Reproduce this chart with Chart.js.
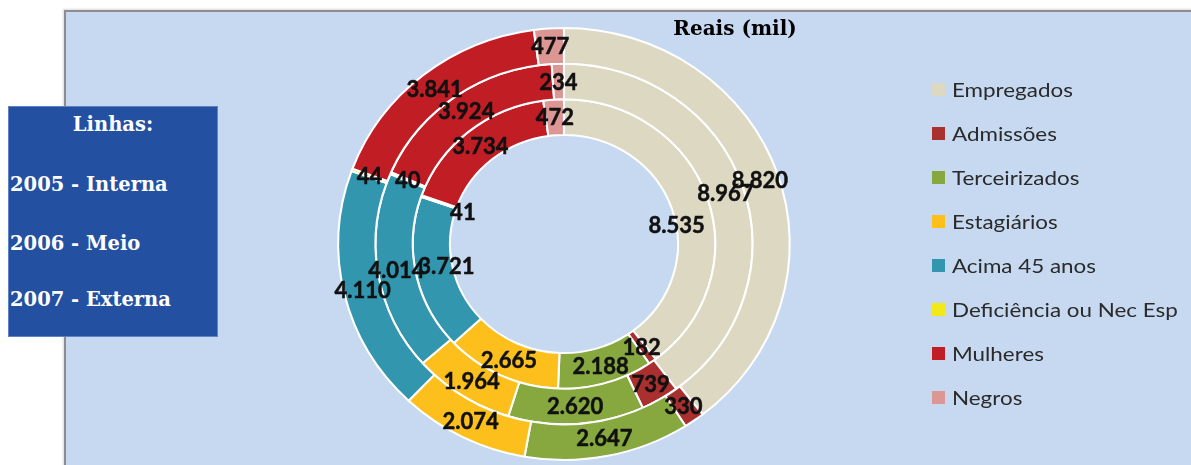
<!DOCTYPE html>
<html lang="pt-BR">
<head>
<meta charset="utf-8">
<title>Reais (mil)</title>
<script src="https://cdn.jsdelivr.net/npm/chart.js@4/dist/chart.umd.min.js"></script>
<style>
  html, body { margin: 0; padding: 0; background: #ffffff; }
  body { width: 1191px; height: 465px; position: relative; overflow: hidden; }
  #panel {
    position: absolute; left: 64px; top: 10px; width: 1140px; height: 470px;
    background: #c6d9f0;
    border-top: 2px solid #8d8d8d; border-left: 2px solid #8d8d8d;
    box-shadow: -1px -1px 2px rgba(0,0,0,0.15);
  }
  #lines {
    position: absolute; left: 8px; top: 106px; width: 208px; height: 229px;
    background: #2350a1; border: 1px solid #5f82c4;
    color: #ffffff; font-family: "DejaVu Serif", serif; font-weight: bold; font-size: 19.5px;
  }
  #lines div { position: absolute; left: 1px; white-space: nowrap; line-height: 20px; }
  #lines .head { left: 0; width: 208px; text-align: center; }
  #chart { position: absolute; left: 0; top: 0; }
</style>
</head>
<body>
<div id="panel"></div>
<div id="lines">
  <div class="head" style="top:8px">Linhas:</div>
  <div style="top:68px">2005 - Interna</div>
  <div style="top:127px">2006 - Meio</div>
  <div style="top:183px">2007 - Externa</div>
</div>
<canvas id="chart" width="1191" height="465"></canvas>
<script>
// Categories and yearly values (R$ mil); rings go 2005 (inner) → 2007 (outer)
const categories = ['Empregados', 'Admissões', 'Terceirizados', 'Estagiários',
  'Acima 45 anos', 'Deficiência ou Nec Esp', 'Mulheres', 'Negros'];
const years = ['2007', '2006', '2005'];
const values2007 = [8820, 330, 2647, 2074, 4110, 44, 3841, 477];
const values2006 = [8967, 739, 2620, 1964, 4014, 40, 3924, 234];
const values2005 = [8535, 182, 2188, 2665, 3721, 41, 3734, 472];
const chartTitle = 'Reais (mil)';

const sliceColors = ['#ddd8c2', '#a9302e', '#86a83f', '#fcbf1c', '#3196ae', '#f3e81a', '#c11d25', '#dc9795'];

// Slight horizontal stretch of the rings
const SX = 1.045;
// Small hand adjustments for a few crowded inner labels: [dataset, index, dx, dy]
const labelNudges = [[2, 0, -13, 22], [2, 4, 12, -5], [2, 5, 24, 10]];

function fmt(v) {
  return String(v).replace(/\B(?=(\d{3})+(?!\d))/g, '.');
}

const decor = {
  id: 'decor',
  beforeDatasetsDraw(chart) {
    const ctx = chart.ctx;
    const a = chart.getDatasetMeta(0).data[0];
    ctx.save();
    ctx.translate(a.x, a.y);
    ctx.scale(SX, 1);
    ctx.translate(-a.x, -a.y);
  },
  afterDatasetsDraw(chart) {
    const ctx = chart.ctx;
    ctx.restore();

    // value labels at each slice centre
    ctx.save();
    ctx.font = 'bold 22px Lato, sans-serif';
    ctx.fillStyle = '#111111';
    ctx.strokeStyle = '#111111';
    ctx.lineWidth = 0.5;
    ctx.textAlign = 'center';
    ctx.textBaseline = 'middle';
    chart.data.datasets.forEach((ds, i) => {
      const meta = chart.getDatasetMeta(i);
      meta.data.forEach((arc, j) => {
        const p = arc.getCenterPoint();
        let x = arc.x + (p.x - arc.x) * SX;
        let y = p.y;
        labelNudges.forEach(n => { if (n[0] === i && n[1] === j) { x += n[2]; y += n[3]; } });
        ctx.fillText(fmt(ds.data[j]), x, y + 1);
        ctx.strokeText(fmt(ds.data[j]), x, y + 1);
      });
    });
    ctx.restore();

    // title
    ctx.save();
    ctx.font = 'bold 20px "DejaVu Serif", serif';
    ctx.fillStyle = '#000000';
    ctx.textAlign = 'center';
    ctx.textBaseline = 'middle';
    ctx.fillText(chartTitle, 735, 30);
    ctx.restore();

    // legend
    ctx.save();
    ctx.font = '20px Lato, sans-serif';
    ctx.textBaseline = 'middle';
    categories.forEach((c, k) => {
      const y = 89.5 + k * 44;
      ctx.fillStyle = sliceColors[k];
      ctx.fillRect(932, y - 6.5, 13, 13);
      ctx.save();
      ctx.translate(952, y + 1);
      ctx.scale(1.12, 1);
      ctx.fillStyle = '#2a2a2a';
      ctx.fillText(c, 0, 0);
      ctx.restore();
    });
    ctx.restore();
  }
};

new Chart(document.getElementById('chart'), {
  type: 'doughnut',
  data: {
    labels: categories,
    datasets: [
      { label: years[0], data: values2007, backgroundColor: sliceColors },
      { label: years[1], data: values2006, backgroundColor: sliceColors },
      { label: years[2], data: values2005, backgroundColor: sliceColors }
    ]
  },
  options: {
    responsive: false,
    animation: false,
    radius: 216,
    cutout: '50.5%',
    borderColor: '#ffffff',
    borderWidth: 2,
    layout: { padding: { left: 0, right: 63, top: 23, bottom: 0 } },
    elements: { arc: { borderColor: '#ffffff', borderWidth: 2 } },
    plugins: { legend: { display: false }, tooltip: { enabled: false }, title: { display: false } }
  },
  plugins: [decor]
});
</script>
</body>
</html>
